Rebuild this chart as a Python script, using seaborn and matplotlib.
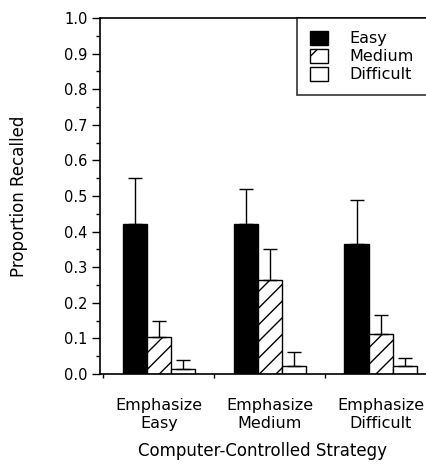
import matplotlib
matplotlib.use("Agg")
import matplotlib.pyplot as plt
import seaborn as sns
import pandas as pd
import numpy as np
from matplotlib.ticker import MultipleLocator, FixedLocator, FormatStrFormatter

strategies = ["Emphasize\nEasy", "Emphasize\nMedium", "Emphasize\nDifficult"]
difficulty = ["Easy", "Medium", "Difficult"]
easy_vals = [0.42, 0.42, 0.365]
medium_vals = [0.105, 0.265, 0.112]
difficult_vals = [0.015, 0.022, 0.022]
easy_err = [0.13, 0.10, 0.125]
medium_err = [0.045, 0.087, 0.055]
difficult_err = [0.025, 0.041, 0.023]

rows = []
for d, vals, errs in zip(difficulty, [easy_vals, medium_vals, difficult_vals],
                         [easy_err, medium_err, difficult_err]):
    for s, v, e in zip(strategies, vals, errs):
        rows.append({"Strategy": s, "Difficulty": d, "Proportion": v, "Err": e})
df = pd.DataFrame(rows)

sns.set_style("ticks")
plt.rcParams['font.family'] = ['DejaVu Sans']
plt.rcParams['hatch.linewidth'] = 1.0
for k in ["text.color", "axes.labelcolor", "xtick.color", "ytick.color",
          "axes.edgecolor"]:
    plt.rcParams[k] = "black"

fig = plt.figure(figsize=(4.26, 4.65), dpi=100)
ax = fig.add_axes([100/426, (465-374)/465, 1 - 100/426, (374-18)/465])

sns.barplot(data=df, x="Strategy", y="Proportion", hue="Difficulty",
            order=strategies, hue_order=difficulty,
            palette={"Easy": "black", "Medium": "white", "Difficult": "white"},
            width=0.65, errorbar=None, edgecolor="black", linewidth=1.0,
            ax=ax, legend=True)

for cont, d in zip(ax.containers, difficulty):
    sub = df[df["Difficulty"] == d].set_index("Strategy").loc[strategies]
    xs = []
    for bar in cont:
        xs.append(bar.get_x() + bar.get_width() / 2)
        if d == "Medium":
            bar.set_hatch("//")
    ax.errorbar(xs, sub["Proportion"].values,
                yerr=[np.zeros(len(xs)), sub["Err"].values],
                fmt="none", ecolor="black", elinewidth=1.0, capsize=5,
                capthick=1.0, zorder=1)

ax.set_ylim(0, 1.0)
ax.set_xlim(-0.53, 2.41)
ax.yaxis.set_major_locator(MultipleLocator(0.1))
ax.yaxis.set_minor_locator(MultipleLocator(0.05))
ax.yaxis.set_major_formatter(FormatStrFormatter("%.1f"))
ax.xaxis.set_minor_locator(FixedLocator([-0.5, 0.5, 1.5]))
ax.tick_params(axis="x", which="major", length=0, pad=17, labelsize=11.5,
               colors="black")
ax.tick_params(axis="x", which="minor", length=3, width=1, direction="out",
               colors="black")
ax.tick_params(axis="y", which="major", length=6, width=1, pad=3,
               labelsize=10.5, colors="black")
ax.tick_params(axis="y", which="minor", length=3, width=1, colors="black")
for lab in ax.get_xticklabels():
    lab.set_linespacing(1.3)

for sp in ["left", "top", "bottom"]:
    ax.spines[sp].set_visible(True)
    ax.spines[sp].set_linewidth(1.2)
    ax.spines[sp].set_color("black")
ax.spines["right"].set_visible(False)

ax.set_xlabel("Computer-Controlled Strategy", fontsize=12, labelpad=8,
              color="black")
ax.set_ylabel("Proportion Recalled", fontsize=12, labelpad=26, color="black")

leg = ax.legend(loc="upper left",
                bbox_to_anchor=((297 - 100) / 326, 0, 0.45, 1.0),
                mode="expand",
                frameon=True, fancybox=False, edgecolor="black", fontsize=11.5,
                handlelength=1.15, handleheight=1.0, borderaxespad=0,
                borderpad=0.8, labelspacing=0.15, handletextpad=1.3)
leg.get_frame().set_linewidth(1.2)
for t in leg.get_texts():
    t.set_color("black")
for h, d in zip(leg.legend_handles, difficulty):
    if d == "Medium":
        h.set_hatch("/")

fig.savefig("out.png", dpi=100)
